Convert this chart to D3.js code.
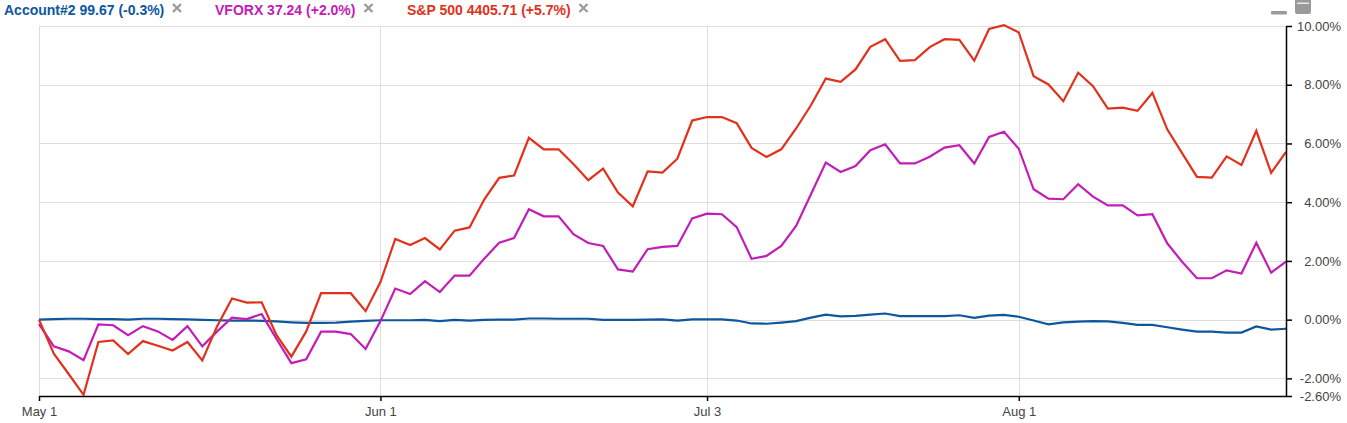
<!DOCTYPE html>
<html>
<head>
<meta charset="utf-8">
<script src="https://cdn.jsdelivr.net/npm/d3@7"></script>
<style>
  html, body { margin: 0; padding: 0; background: #fff; }
  svg { display: block; }
</style>
</head>
<body>
<svg id="chart" width="1347" height="423"></svg>
<script>
// ---------- data ----------
const dates = [
  "2023-05-01","2023-05-02","2023-05-03","2023-05-04","2023-05-05",
  "2023-05-08","2023-05-09","2023-05-10","2023-05-11","2023-05-12",
  "2023-05-15","2023-05-16","2023-05-17","2023-05-18","2023-05-19",
  "2023-05-22","2023-05-23","2023-05-24","2023-05-25","2023-05-26",
  "2023-05-29","2023-05-30","2023-05-31",
  "2023-06-01","2023-06-02",
  "2023-06-05","2023-06-06","2023-06-07","2023-06-08","2023-06-09",
  "2023-06-12","2023-06-13","2023-06-14","2023-06-15","2023-06-16",
  "2023-06-19","2023-06-20","2023-06-21","2023-06-22","2023-06-23",
  "2023-06-26","2023-06-27","2023-06-28","2023-06-29","2023-06-30",
  "2023-07-03","2023-07-04","2023-07-05","2023-07-06","2023-07-07",
  "2023-07-10","2023-07-11","2023-07-12","2023-07-13","2023-07-14",
  "2023-07-17","2023-07-18","2023-07-19","2023-07-20","2023-07-21",
  "2023-07-24","2023-07-25","2023-07-26","2023-07-27","2023-07-28",
  "2023-07-31",
  "2023-08-01","2023-08-02","2023-08-03","2023-08-04",
  "2023-08-07","2023-08-08","2023-08-09","2023-08-10","2023-08-11",
  "2023-08-14","2023-08-15","2023-08-16","2023-08-17","2023-08-18",
  "2023-08-21","2023-08-22","2023-08-23","2023-08-24","2023-08-25"
];

const account2 = [
  0.00, 0.02, 0.03, 0.03, 0.02, 0.02, 0.00, 0.03, 0.03, 0.02,
  0.01,-0.01,-0.02,-0.03,-0.03,-0.04,-0.06,-0.09,-0.11,-0.11,
 -0.10,-0.07,-0.04,-0.02,-0.02,-0.02,-0.01,-0.05,-0.01,-0.03,
 -0.01, 0.00, 0.00, 0.04, 0.04, 0.03, 0.03, 0.03,-0.01,-0.01,
 -0.01, 0.00, 0.01,-0.03, 0.01, 0.01, 0.01,-0.03,-0.13,-0.14,
 -0.10,-0.05, 0.07, 0.17, 0.11, 0.13, 0.17, 0.21, 0.12, 0.12,
  0.12, 0.12, 0.15, 0.06, 0.14, 0.16, 0.10,-0.03,-0.16,-0.09,
 -0.07,-0.05,-0.06,-0.11,-0.18,-0.18,-0.26,-0.34,-0.41,-0.41,
 -0.44,-0.44,-0.23,-0.34,-0.31
];

const vforx = [
 -0.15,-0.91,-1.08,-1.38,-0.16,-0.19,-0.53,-0.22,-0.40,-0.69,
 -0.22,-0.91,-0.40, 0.07, 0.02, 0.19,-0.66,-1.48,-1.35,-0.41,
 -0.41,-0.49,-1.00,-0.05, 1.06, 0.87, 1.31, 0.94, 1.50, 1.50,
  2.08, 2.62, 2.78, 3.76, 3.52, 3.52, 2.91, 2.61, 2.51, 1.71,
  1.64, 2.40, 2.48, 2.51, 3.45, 3.61, 3.59, 3.15, 2.07, 2.17,
  2.51, 3.19, 4.27, 5.35, 5.03, 5.23, 5.77, 5.97, 5.32, 5.32,
  5.55, 5.86, 5.94, 5.32, 6.22, 6.40, 5.82, 4.44, 4.12, 4.10,
  4.61, 4.19, 3.89, 3.89, 3.55, 3.59, 2.60, 1.97, 1.41, 1.41,
  1.68, 1.57, 2.62, 1.60, 1.98
];

const sp500 = [
  0.00,-1.16,-1.85,-2.56,-0.76,-0.71,-1.17,-0.73,-0.89,-1.05,
 -0.76,-1.39,-0.22, 0.72, 0.58, 0.59,-0.53,-1.26,-0.40, 0.90,
  0.90, 0.90, 0.29, 1.28, 2.75, 2.54, 2.78, 2.39, 3.03, 3.14,
  4.10, 4.83, 4.91, 6.19, 5.80, 5.80, 5.30, 4.75, 5.14, 4.33,
  3.86, 5.05, 5.01, 5.48, 6.78, 6.90, 6.90, 6.69, 5.85, 5.54,
  5.80, 6.51, 7.30, 8.21, 8.10, 8.52, 9.29, 9.55, 8.81, 8.84,
  9.28, 9.55, 9.53, 8.82, 9.90,10.03, 9.78, 8.29, 8.01, 7.44,
  8.41, 7.95, 7.19, 7.22, 7.11, 7.72, 6.48, 5.67, 4.86, 4.84,
  5.56, 5.27, 6.43, 5.00, 5.71
];

const seriesNames  = ["Account#2 99.67 (-0.3%)", "VFORX 37.24 (+2.0%)", "S&P 500 4405.71 (+5.7%)"];
const seriesColors = ["#0d579f", "#c21db6", "#e2311b"];

const xTickDates  = ["2023-05-01", "2023-06-01", "2023-07-03", "2023-08-01"];
const xTickLabels = ["May 1", "Jun 1", "Jul 3", "Aug 1"];
const yTickValues = [10, 8, 6, 4, 2, 0, -2, -2.6];

// ---------- layout ----------
const svg = d3.select("#chart");
const plotL = 39, plotR = 1286, plotT = 26, plotB = 396;

const x = d3.scalePoint().domain(dates).range([plotL, plotR]);
const y = d3.scaleLinear().domain([-2.6, 10]).range([plotB, plotT]);

// gridlines
const grid = svg.append("g");
grid.selectAll("line.h")
  .data(yTickValues.filter(v => v !== -2.6))
  .join("line")
  .attr("x1", plotL).attr("x2", plotR)
  .attr("y1", d => Math.round(y(d)) + 0.5).attr("y2", d => Math.round(y(d)) + 0.5)
  .attr("stroke", "#dedede").attr("stroke-width", 1);
grid.selectAll("line.v")
  .data(xTickDates)
  .join("line")
  .attr("x1", d => Math.round(x(d)) + 0.5).attr("x2", d => Math.round(x(d)) + 0.5)
  .attr("y1", plotT).attr("y2", plotB)
  .attr("stroke", "#dedede").attr("stroke-width", 1);

// lines
const allSeries = [account2, vforx, sp500];
const line = d3.line()
  .x((d, i) => x(dates[i]))
  .y(d => y(d));

[0, 1, 2].forEach(k => {
  svg.append("path")
    .datum(allSeries[k])
    .attr("d", line)
    .attr("fill", "none")
    .attr("stroke", seriesColors[k])
    .attr("stroke-width", 2.2);
});

// bottom axis
const xAxis = d3.axisBottom(x)
  .tickValues(xTickDates)
  .tickFormat((d, i) => xTickLabels[i])
  .tickSizeInner(5).tickSizeOuter(0).tickPadding(6);
const gx = svg.append("g").attr("transform", `translate(0,${plotB})`).call(xAxis);
gx.select(".domain").attr("stroke", "#000").attr("stroke-width", 1.5);
gx.selectAll(".tick line").attr("stroke", "#000").attr("stroke-width", 1.5);
gx.selectAll(".tick text")
  .attr("font-family", "'Liberation Sans', Arial, sans-serif")
  .attr("font-size", 13).attr("fill", "#444");

// right axis
const yAxis = d3.axisRight(y)
  .tickValues(yTickValues)
  .tickFormat(d => d.toFixed(2) + "%")
  .tickSizeInner(6).tickSizeOuter(0).tickPadding(3);
const gy = svg.append("g").attr("transform", `translate(${plotR},0)`).call(yAxis);
gy.select(".domain").attr("stroke", "#000").attr("stroke-width", 1.5);
gy.selectAll(".tick line").attr("stroke", "#000").attr("stroke-width", 1.5);
gy.selectAll(".tick text")
  .attr("text-anchor", "end")
  .attr("x", 55)
  .attr("font-family", "'Liberation Sans', Arial, sans-serif")
  .attr("font-size", 13).attr("fill", "#444");

// legend
const legendX = [4, 215, 407];
const closeX = [173, 364.5, 579.5];
seriesNames.forEach((name, k) => {
  svg.append("text")
    .attr("x", legendX[k]).attr("y", 15)
    .attr("font-family", "'Liberation Sans', Arial, sans-serif")
    .attr("font-size", 14).attr("font-weight", "bold")
    .attr("fill", seriesColors[k])
    .text(name);
  const cx = closeX[k];
  svg.append("path")
    .attr("d", `M${cx},4 L${cx + 8},12 M${cx + 8},4 L${cx},12`)
    .attr("stroke", "#9c9c9c").attr("stroke-width", 2.4).attr("fill", "none");
});

// window controls (top right)
svg.append("rect").attr("x", 1271).attr("y", 11).attr("width", 16).attr("height", 3.5)
  .attr("rx", 1).attr("fill", "#9a9a9a");
svg.append("rect").attr("x", 1295).attr("y", -3).attr("width", 16).attr("height", 17)
  .attr("rx", 2).attr("fill", "#9a9a9a");
svg.append("rect").attr("x", 1297).attr("y", 2.5).attr("width", 12).attr("height", 1.5)
  .attr("fill", "#e8e8e8");
</script>
</body>
</html>
